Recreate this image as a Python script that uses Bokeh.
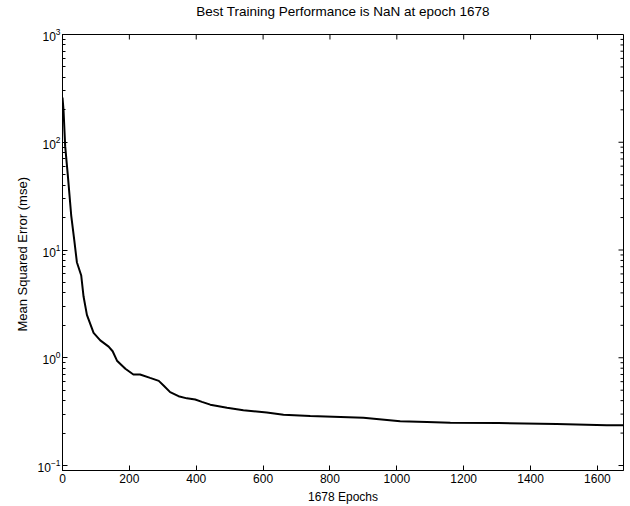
import math
from bokeh.plotting import figure
from bokeh.models import Range1d, FixedTicker, LogTicker, LinearAxis
from bokeh.embed import file_html
from bokeh.resources import INLINE

# Training performance curve (mse vs epoch)
epochs = [0, 3, 8, 16, 26, 36, 43, 56, 63, 73, 93, 113, 138, 150, 163, 188, 212, 232,
          262, 288, 303, 322, 347, 372, 397, 417, 442, 492, 541, 611, 661, 741, 900,
          1010, 1090, 1160, 1304, 1478, 1628, 1678]
mse = [260, 200, 92, 49, 21, 11.8, 7.7, 5.8, 3.7, 2.5, 1.7, 1.45, 1.27, 1.15, 0.94,
       0.79, 0.70, 0.70, 0.65, 0.61, 0.55, 0.48, 0.44, 0.42, 0.41, 0.39, 0.367, 0.344,
       0.325, 0.31, 0.296, 0.288, 0.278, 0.257, 0.254, 0.25, 0.248, 0.243, 0.237, 0.236]

x_ticks = [0, 200, 400, 600, 800, 1000, 1200, 1400, 1600]
y_ticks = [0.1, 1, 10, 100, 1000]
title_text = "Best Training Performance is NaN at epoch 1678"
x_label = "1678 Epochs"
y_label = "Mean Squared Error  (mse)"

FONT = "Liberation Sans"
X_END = 1678
Y_START, Y_END = 0.0899, 1000

p = figure(width=626, height=506, y_axis_type="log",
           x_range=Range1d(0, X_END), y_range=Range1d(Y_START, Y_END),
           output_backend="svg", toolbar_location=None,
           min_border_left=62, min_border_right=3, min_border_top=34,
           min_border_bottom=35)

p.xgrid.visible = False
p.ygrid.visible = False
p.outline_line_color = "black"
p.outline_line_width = 1
p.background_fill_color = "white"
p.border_fill_color = "white"

p.line(epochs, mse, line_color="black", line_width=2)

def style_axis(ax):
    ax.axis_line_color = "black"
    ax.axis_line_width = 1
    ax.major_tick_in = 5
    ax.major_tick_out = 0
    ax.major_tick_line_color = "black"
    ax.major_tick_line_width = 1
    ax.minor_tick_in = 3
    ax.minor_tick_out = 0
    ax.minor_tick_line_color = "black"
    ax.major_label_text_font = FONT
    ax.major_label_text_font_size = "12px"
    ax.major_label_text_color = "black"
    ax.axis_label_text_font = FONT
    ax.axis_label_text_font_size = "12px"
    ax.axis_label_text_font_style = "normal"
    ax.axis_label_text_color = "black"

xa = p.xaxis[0]
xa.ticker = FixedTicker(ticks=x_ticks)
style_axis(xa)
xa.major_label_standoff = 3
xa.axis_label = x_label
xa.axis_label_standoff = 4

ya = p.yaxis[0]
ya.ticker = LogTicker(num_minor_ticks=10)
style_axis(ya)
ya.major_label_standoff = 2
ya.axis_label = y_label
ya.axis_label_text_font_size = "13px"
ya.axis_label_standoff = 5

# Title drawn as the label of a tick-less axis above the box
top = LinearAxis(ticker=FixedTicker(ticks=[]), axis_label=title_text)
style_axis(top)
top.axis_line_color = None
top.major_tick_in = 0
top.minor_tick_in = 0
top.axis_label_text_font_size = "13.5px"
top.axis_label_standoff = 16
p.add_layout(top, "above")

# Mirrored inward ticks on the top and right edges of the box
p.ray(x=x_ticks, y=[Y_END] * len(x_ticks), length=5, length_units="screen",
      angle=-math.pi / 2, line_color="black", line_width=1)
p.ray(x=[X_END] * len(y_ticks), y=y_ticks, length=5, length_units="screen",
      angle=math.pi, line_color="black", line_width=1)
minor_y = [d * m for d in y_ticks[:-1] for m in range(2, 10)]
p.ray(x=[X_END] * len(minor_y), y=minor_y, length=3, length_units="screen",
      angle=math.pi, line_color="black", line_width=1)

open("out.html", "w").write(file_html(p, INLINE))
